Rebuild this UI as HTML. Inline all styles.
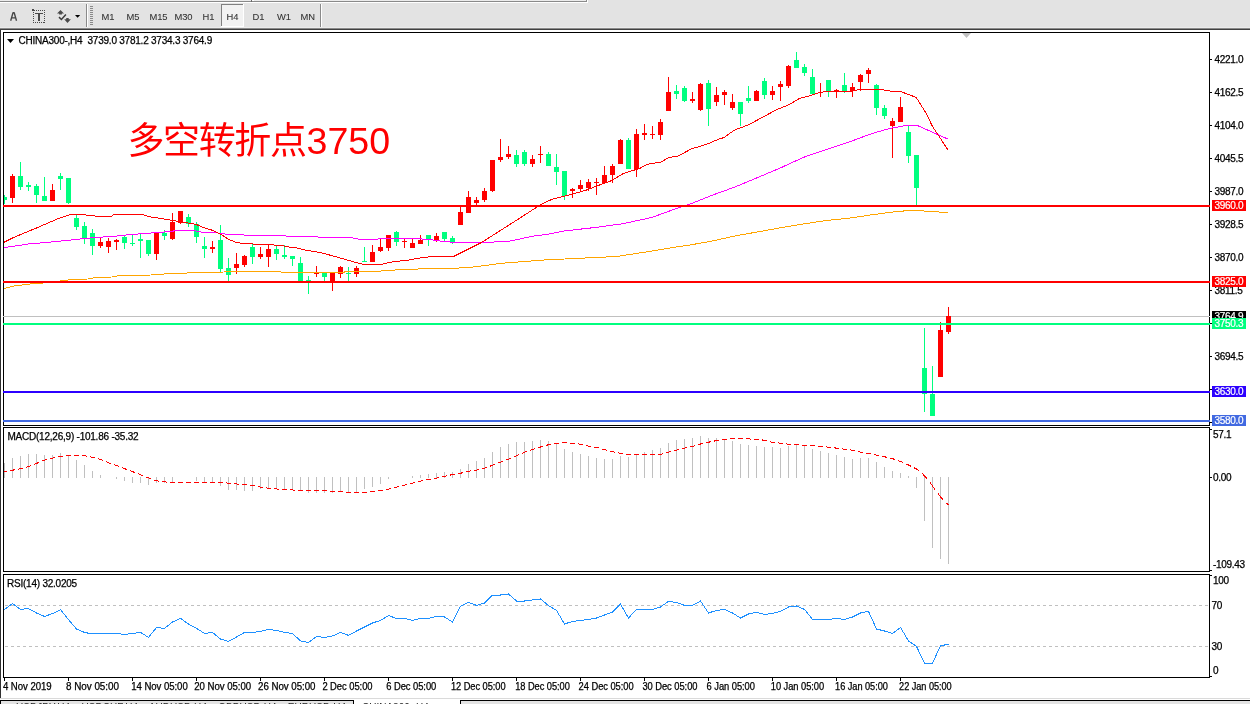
<!DOCTYPE html><html><head><meta charset="utf-8"><title>CHINA300-,H4</title><style>
html,body{margin:0;padding:0;background:#fff;width:1250px;height:704px;overflow:hidden}
svg{display:block;will-change:transform}
text{font-family:"Liberation Sans","Noto Sans CJK SC",sans-serif}
.ax{font-size:10px;letter-spacing:-0.32px;fill:#000;stroke:#000;stroke-width:0.25px}
.hd{font-size:10px;letter-spacing:-0.23px;fill:#000;stroke:#000;stroke-width:0.25px}
.tm{font-size:10px;letter-spacing:-0.05px;fill:#000;stroke:#000;stroke-width:0.25px}
.tb{font-size:9.4px;letter-spacing:-0.1px;fill:#333;stroke:#333;stroke-width:0.08px}
.lb{font-size:10px;letter-spacing:-0.32px;fill:#fff;stroke:#fff;stroke-width:0.2px}
</style></head><body>
<svg width="1250" height="704" viewBox="0 0 1250 704">
<g shape-rendering="crispEdges">
<rect x="0" y="0" width="1250" height="28" fill="#e3e3e3"/>
<rect x="0" y="0" width="587" height="1" fill="#ececec"/>
<rect x="0" y="1" width="587" height="1" fill="#8a8a8a"/>
<rect x="586" y="0" width="1" height="2" fill="#8a8a8a"/>
<rect x="0" y="2" width="588" height="1" fill="#ffffff"/>
<rect x="587" y="0" width="1" height="3" fill="#ffffff"/>
<rect x="251" y="0" width="1" height="2" fill="#6a6a6a"/>
<rect x="252" y="0" width="2" height="1" fill="#ffffff"/>
<rect x="0" y="27" width="1250" height="1" fill="#ebebeb"/>
<rect x="0" y="28" width="1250" height="1" fill="#8a8a8a"/>
<rect x="0" y="29" width="1250" height="1" fill="#404040"/>
<rect x="86" y="4" width="1" height="23" fill="#8a8a8a"/><rect x="87" y="4" width="1" height="23" fill="#ffffff"/>
<rect x="320" y="4" width="1" height="23" fill="#8a8a8a"/><rect x="321" y="4" width="1" height="23" fill="#ffffff"/>
<rect x="90" y="6" width="3" height="1" fill="#8a8a8a"/>
<rect x="90" y="8" width="3" height="1" fill="#8a8a8a"/>
<rect x="90" y="10" width="3" height="1" fill="#8a8a8a"/>
<rect x="90" y="12" width="3" height="1" fill="#8a8a8a"/>
<rect x="90" y="14" width="3" height="1" fill="#8a8a8a"/>
<rect x="90" y="16" width="3" height="1" fill="#8a8a8a"/>
<rect x="90" y="18" width="3" height="1" fill="#8a8a8a"/>
<rect x="90" y="20" width="3" height="1" fill="#8a8a8a"/>
<rect x="90" y="22" width="3" height="1" fill="#8a8a8a"/>
<rect x="90" y="24" width="3" height="1" fill="#8a8a8a"/>
<rect x="221" y="4" width="22" height="22" fill="#f2f2f2"/>
<rect x="221" y="4" width="22" height="1" fill="#808080"/><rect x="221" y="4" width="1" height="22" fill="#808080"/>
<rect x="243" y="4" width="1" height="23" fill="#ffffff"/><rect x="221" y="26" width="23" height="1" fill="#ffffff"/>
</g>
<path d="M10.7,20.8 L13,12.7 L14.2,12.7 L16.5,20.8 M11.8,17.9 L15.4,17.9" fill="none" stroke="#454545" stroke-width="1.35" stroke-linejoin="bevel"/>
<g shape-rendering="crispEdges" fill="#4a4a4a">
<rect x="33" y="12" width="1" height="1"/>
<rect x="33" y="14" width="1" height="1"/>
<rect x="33" y="16" width="1" height="1"/>
<rect x="33" y="18" width="1" height="1"/>
<rect x="33" y="20" width="1" height="1"/>
<rect x="44" y="10" width="1" height="1"/>
<rect x="44" y="12" width="1" height="1"/>
<rect x="44" y="14" width="1" height="1"/>
<rect x="44" y="16" width="1" height="1"/>
<rect x="44" y="18" width="1" height="1"/>
<rect x="44" y="20" width="1" height="1"/>
<rect x="44" y="22" width="1" height="1"/>
<rect x="36" y="10" width="1" height="1"/>
<rect x="38" y="10" width="1" height="1"/>
<rect x="40" y="10" width="1" height="1"/>
<rect x="42" y="10" width="1" height="1"/>
<rect x="33" y="22" width="1" height="1"/>
<rect x="35" y="22" width="1" height="1"/>
<rect x="37" y="22" width="1" height="1"/>
<rect x="39" y="22" width="1" height="1"/>
<rect x="41" y="22" width="1" height="1"/>
<rect x="43" y="22" width="1" height="1"/>
<rect x="32" y="9" width="2" height="2"/><rect x="34" y="10" width="1" height="1"/>
<rect x="35" y="13" width="8" height="1"/><rect x="38" y="13" width="2" height="8"/>
</g>
<path d="M57,13.6 L60.5,10 L64,13.6 Z M59.1,13.4 h2.8 v1.2 h-2.8 Z" fill="#4a4a4a"/>
<path d="M59,17.1 L61.4,19.5 L65.9,14.4" stroke="#3c3c3c" stroke-width="1.5" fill="none"/>
<path d="M64.2,19.3 L70.9,19.3 L67.5,22.9 Z M66.2,18.1 h2.5 v1.4 h-2.5 Z" fill="#4a4a4a"/>
<path d="M75,15 L80.2,15 L77.6,17.8 Z" fill="#000"/>
<text class="tb" x="101.5" y="19.7">M1</text>
<text class="tb" x="126.5" y="19.7">M5</text>
<text class="tb" x="149.5" y="19.7">M15</text>
<text class="tb" x="174.5" y="19.7">M30</text>
<text class="tb" x="202.5" y="19.7">H1</text>
<text class="tb" x="226.5" y="19.7">H4</text>
<text class="tb" x="252.5" y="19.7">D1</text>
<text class="tb" x="277" y="19.7">W1</text>
<text class="tb" x="300.5" y="19.7">MN</text>
<g shape-rendering="crispEdges">
<rect x="0" y="30" width="1250" height="668" fill="#ffffff"/>
<rect x="0" y="30" width="1" height="668" fill="#303030"/>
<rect x="0" y="698" width="1250" height="1" fill="#dadada"/>
<rect x="0" y="699" width="1250" height="5" fill="#ffffff"/>
<rect x="0" y="700" width="354" height="4" fill="#e3e3e3"/><rect x="0" y="700" width="354" height="1" fill="#000"/>
<rect x="460" y="700" width="790" height="4" fill="#e3e3e3"/><rect x="460" y="700" width="790" height="1" fill="#000"/>
<rect x="0" y="700" width="1" height="4" fill="#000"/><rect x="353" y="700" width="1" height="4" fill="#000"/><rect x="460" y="700" width="1" height="4" fill="#000"/>
</g>
<text x="16" y="711" style="font-size:10px;fill:#222" textLength="330" lengthAdjust="spacing">USDJPY,H4 &#160;&#160; USDCHF,H4 &#160;&#160; AUDUSD,H4 &#160;&#160; GBPUSD,H4 &#160;&#160; EURUSD,H4</text>
<text x="362" y="711" style="font-size:10px;fill:#222">CHINA300-,H4</text>
<g shape-rendering="crispEdges" fill="none" stroke="#000" stroke-width="1">
<rect x="3.5" y="32.5" width="1206" height="393"/>
<rect x="3.5" y="427.5" width="1206" height="144"/>
<rect x="3.5" y="574.5" width="1206" height="103"/>
</g>
<defs><clipPath id="cm"><rect x="4" y="33" width="1205" height="392"/></clipPath>
<clipPath id="cd"><rect x="4" y="428" width="1205" height="143"/></clipPath>
<clipPath id="cr"><rect x="4" y="575" width="1205" height="102"/></clipPath></defs>
<g shape-rendering="crispEdges"><rect x="3" y="316" width="1206" height="1" fill="#c0c0c0"/><rect x="1209" y="316" width="1" height="1" fill="#f4f4f4"/></g>
<g clip-path="url(#cm)">
<g shape-rendering="crispEdges">
<rect x="4" y="195" width="1" height="9" fill="#00ff7f"/><rect x="2" y="197" width="5" height="3" fill="#00ff7f"/>
<rect x="12" y="174" width="1" height="29" fill="#ff0000"/><rect x="10" y="176" width="5" height="22" fill="#ff0000"/>
<rect x="20" y="162" width="1" height="28" fill="#00ff7f"/><rect x="18" y="176" width="5" height="11" fill="#00ff7f"/>
<rect x="28" y="182" width="1" height="9" fill="#00ff7f"/><rect x="26" y="185" width="5" height="2" fill="#00ff7f"/>
<rect x="36" y="184" width="1" height="19" fill="#00ff7f"/><rect x="34" y="186" width="5" height="9" fill="#00ff7f"/>
<rect x="44" y="177" width="1" height="24" fill="#00ff7f"/><rect x="42" y="196" width="5" height="5" fill="#00ff7f"/>
<rect x="52" y="184" width="1" height="17" fill="#ff0000"/><rect x="50" y="190" width="5" height="11" fill="#ff0000"/>
<rect x="60" y="173" width="1" height="17" fill="#00ff7f"/><rect x="58" y="176" width="5" height="3" fill="#00ff7f"/>
<rect x="68" y="178" width="1" height="26" fill="#00ff7f"/><rect x="66" y="178" width="5" height="25" fill="#00ff7f"/>
<rect x="76" y="215" width="1" height="15" fill="#00ff7f"/><rect x="74" y="218" width="5" height="9" fill="#00ff7f"/>
<rect x="84" y="222" width="1" height="22" fill="#00ff7f"/><rect x="82" y="226" width="5" height="12" fill="#00ff7f"/>
<rect x="92" y="229" width="1" height="26" fill="#00ff7f"/><rect x="90" y="233" width="5" height="13" fill="#00ff7f"/>
<rect x="100" y="238" width="1" height="10" fill="#ff0000"/><rect x="98" y="242" width="5" height="4" fill="#ff0000"/>
<rect x="108" y="238" width="1" height="15" fill="#ff0000"/><rect x="106" y="241" width="5" height="6" fill="#ff0000"/>
<rect x="116" y="239" width="1" height="11" fill="#ff0000"/><rect x="114" y="240" width="5" height="2" fill="#ff0000"/>
<rect x="124" y="236" width="1" height="13" fill="#00ff7f"/><rect x="122" y="237" width="5" height="6" fill="#00ff7f"/>
<rect x="132" y="234" width="1" height="12" fill="#00ff7f"/><rect x="130" y="243" width="5" height="1" fill="#00ff7f"/>
<rect x="140" y="233" width="1" height="25" fill="#00ff7f"/><rect x="138" y="239" width="5" height="2" fill="#00ff7f"/>
<rect x="148" y="240" width="1" height="16" fill="#00ff7f"/><rect x="146" y="240" width="5" height="14" fill="#00ff7f"/>
<rect x="156" y="232" width="1" height="28" fill="#ff0000"/><rect x="154" y="232" width="5" height="22" fill="#ff0000"/>
<rect x="164" y="230" width="1" height="10" fill="#00ff7f"/><rect x="162" y="233" width="5" height="3" fill="#00ff7f"/>
<rect x="172" y="213" width="1" height="27" fill="#ff0000"/><rect x="170" y="222" width="5" height="17" fill="#ff0000"/>
<rect x="180" y="211" width="1" height="13" fill="#ff0000"/><rect x="178" y="211" width="5" height="12" fill="#ff0000"/>
<rect x="188" y="214" width="1" height="13" fill="#00ff7f"/><rect x="186" y="217" width="5" height="7" fill="#00ff7f"/>
<rect x="196" y="222" width="1" height="21" fill="#00ff7f"/><rect x="194" y="224" width="5" height="13" fill="#00ff7f"/>
<rect x="204" y="237" width="1" height="21" fill="#00ff7f"/><rect x="202" y="246" width="5" height="3" fill="#00ff7f"/>
<rect x="212" y="241" width="1" height="12" fill="#ff0000"/><rect x="210" y="247" width="5" height="2" fill="#ff0000"/>
<rect x="220" y="225" width="1" height="47" fill="#00ff7f"/><rect x="218" y="240" width="5" height="29" fill="#00ff7f"/>
<rect x="228" y="258" width="1" height="23" fill="#00ff7f"/><rect x="226" y="268" width="5" height="7" fill="#00ff7f"/>
<rect x="236" y="253" width="1" height="21" fill="#ff0000"/><rect x="234" y="264" width="5" height="4" fill="#ff0000"/>
<rect x="244" y="255" width="1" height="12" fill="#ff0000"/><rect x="242" y="256" width="5" height="9" fill="#ff0000"/>
<rect x="252" y="243" width="1" height="21" fill="#00ff7f"/><rect x="250" y="247" width="5" height="10" fill="#00ff7f"/>
<rect x="260" y="247" width="1" height="12" fill="#ff0000"/><rect x="258" y="254" width="5" height="3" fill="#ff0000"/>
<rect x="268" y="244" width="1" height="23" fill="#ff0000"/><rect x="266" y="249" width="5" height="8" fill="#ff0000"/>
<rect x="276" y="246" width="1" height="14" fill="#00ff7f"/><rect x="274" y="249" width="5" height="5" fill="#00ff7f"/>
<rect x="284" y="245" width="1" height="14" fill="#00ff7f"/><rect x="282" y="255" width="5" height="2" fill="#00ff7f"/>
<rect x="292" y="256" width="1" height="10" fill="#00ff7f"/><rect x="290" y="256" width="5" height="3" fill="#00ff7f"/>
<rect x="300" y="257" width="1" height="24" fill="#00ff7f"/><rect x="298" y="263" width="5" height="18" fill="#00ff7f"/>
<rect x="308" y="276" width="1" height="18" fill="#00ff7f"/><rect x="306" y="280" width="5" height="1" fill="#00ff7f"/>
<rect x="316" y="266" width="1" height="11" fill="#ff0000"/><rect x="314" y="273" width="5" height="1" fill="#ff0000"/>
<rect x="324" y="273" width="1" height="8" fill="#00ff7f"/><rect x="322" y="273" width="5" height="4" fill="#00ff7f"/>
<rect x="332" y="273" width="1" height="18" fill="#ff0000"/><rect x="330" y="273" width="5" height="9" fill="#ff0000"/>
<rect x="340" y="266" width="1" height="12" fill="#ff0000"/><rect x="338" y="267" width="5" height="7" fill="#ff0000"/>
<rect x="348" y="267" width="1" height="14" fill="#00ff7f"/><rect x="346" y="273" width="5" height="1" fill="#00ff7f"/>
<rect x="356" y="266" width="1" height="11" fill="#ff0000"/><rect x="354" y="268" width="5" height="6" fill="#ff0000"/>
<rect x="364" y="247" width="1" height="15" fill="#00ff7f"/><rect x="362" y="261" width="5" height="1" fill="#00ff7f"/>
<rect x="372" y="245" width="1" height="17" fill="#ff0000"/><rect x="370" y="252" width="5" height="10" fill="#ff0000"/>
<rect x="380" y="239" width="1" height="13" fill="#ff0000"/><rect x="378" y="247" width="5" height="4" fill="#ff0000"/>
<rect x="388" y="235" width="1" height="16" fill="#ff0000"/><rect x="386" y="235" width="5" height="13" fill="#ff0000"/>
<rect x="396" y="231" width="1" height="15" fill="#00ff7f"/><rect x="394" y="232" width="5" height="10" fill="#00ff7f"/>
<rect x="404" y="238" width="1" height="10" fill="#ff0000"/><rect x="402" y="241" width="5" height="1" fill="#ff0000"/>
<rect x="412" y="239" width="1" height="9" fill="#ff0000"/><rect x="410" y="243" width="5" height="5" fill="#ff0000"/>
<rect x="420" y="235" width="1" height="9" fill="#ff0000"/><rect x="418" y="240" width="5" height="4" fill="#ff0000"/>
<rect x="428" y="235" width="1" height="11" fill="#00ff7f"/><rect x="426" y="235" width="5" height="4" fill="#00ff7f"/>
<rect x="436" y="233" width="1" height="9" fill="#ff0000"/><rect x="434" y="236" width="5" height="5" fill="#ff0000"/>
<rect x="444" y="232" width="1" height="9" fill="#00ff7f"/><rect x="442" y="232" width="5" height="7" fill="#00ff7f"/>
<rect x="452" y="236" width="1" height="8" fill="#00ff7f"/><rect x="450" y="238" width="5" height="5" fill="#00ff7f"/>
<rect x="460" y="207" width="1" height="18" fill="#ff0000"/><rect x="458" y="212" width="5" height="13" fill="#ff0000"/>
<rect x="468" y="191" width="1" height="22" fill="#ff0000"/><rect x="466" y="197" width="5" height="16" fill="#ff0000"/>
<rect x="476" y="197" width="1" height="8" fill="#ff0000"/><rect x="474" y="200" width="5" height="3" fill="#ff0000"/>
<rect x="484" y="188" width="1" height="14" fill="#ff0000"/><rect x="482" y="191" width="5" height="9" fill="#ff0000"/>
<rect x="492" y="160" width="1" height="32" fill="#ff0000"/><rect x="490" y="160" width="5" height="31" fill="#ff0000"/>
<rect x="500" y="139" width="1" height="23" fill="#ff0000"/><rect x="498" y="157" width="5" height="3" fill="#ff0000"/>
<rect x="508" y="146" width="1" height="13" fill="#ff0000"/><rect x="506" y="154" width="5" height="3" fill="#ff0000"/>
<rect x="516" y="150" width="1" height="17" fill="#00ff7f"/><rect x="514" y="155" width="5" height="9" fill="#00ff7f"/>
<rect x="524" y="150" width="1" height="16" fill="#00ff7f"/><rect x="522" y="152" width="5" height="12" fill="#00ff7f"/>
<rect x="532" y="155" width="1" height="12" fill="#ff0000"/><rect x="530" y="159" width="5" height="5" fill="#ff0000"/>
<rect x="540" y="146" width="1" height="17" fill="#ff0000"/><rect x="538" y="154" width="5" height="1" fill="#ff0000"/>
<rect x="548" y="152" width="1" height="14" fill="#00ff7f"/><rect x="546" y="154" width="5" height="12" fill="#00ff7f"/>
<rect x="556" y="154" width="1" height="31" fill="#00ff7f"/><rect x="554" y="167" width="5" height="5" fill="#00ff7f"/>
<rect x="564" y="171" width="1" height="29" fill="#00ff7f"/><rect x="562" y="171" width="5" height="25" fill="#00ff7f"/>
<rect x="572" y="188" width="1" height="10" fill="#ff0000"/><rect x="570" y="189" width="5" height="2" fill="#ff0000"/>
<rect x="580" y="180" width="1" height="12" fill="#ff0000"/><rect x="578" y="185" width="5" height="4" fill="#ff0000"/>
<rect x="588" y="179" width="1" height="12" fill="#ff0000"/><rect x="586" y="182" width="5" height="6" fill="#ff0000"/>
<rect x="596" y="178" width="1" height="17" fill="#ff0000"/><rect x="594" y="182" width="5" height="1" fill="#ff0000"/>
<rect x="604" y="166" width="1" height="17" fill="#ff0000"/><rect x="602" y="175" width="5" height="8" fill="#ff0000"/>
<rect x="612" y="164" width="1" height="19" fill="#ff0000"/><rect x="610" y="166" width="5" height="9" fill="#ff0000"/>
<rect x="620" y="139" width="1" height="25" fill="#ff0000"/><rect x="618" y="140" width="5" height="24" fill="#ff0000"/>
<rect x="628" y="138" width="1" height="31" fill="#00ff7f"/><rect x="626" y="140" width="5" height="29" fill="#00ff7f"/>
<rect x="636" y="129" width="1" height="48" fill="#ff0000"/><rect x="634" y="134" width="5" height="35" fill="#ff0000"/>
<rect x="644" y="124" width="1" height="16" fill="#ff0000"/><rect x="642" y="133" width="5" height="2" fill="#ff0000"/>
<rect x="652" y="126" width="1" height="13" fill="#ff0000"/><rect x="650" y="134" width="5" height="1" fill="#ff0000"/>
<rect x="660" y="119" width="1" height="21" fill="#ff0000"/><rect x="658" y="122" width="5" height="13" fill="#ff0000"/>
<rect x="668" y="77" width="1" height="34" fill="#ff0000"/><rect x="666" y="92" width="5" height="19" fill="#ff0000"/>
<rect x="676" y="85" width="1" height="14" fill="#00ff7f"/><rect x="674" y="91" width="5" height="3" fill="#00ff7f"/>
<rect x="684" y="86" width="1" height="16" fill="#00ff7f"/><rect x="682" y="88" width="5" height="13" fill="#00ff7f"/>
<rect x="692" y="92" width="1" height="11" fill="#ff0000"/><rect x="690" y="99" width="5" height="2" fill="#ff0000"/>
<rect x="700" y="83" width="1" height="28" fill="#ff0000"/><rect x="698" y="84" width="5" height="26" fill="#ff0000"/>
<rect x="708" y="80" width="1" height="46" fill="#00ff7f"/><rect x="706" y="83" width="5" height="26" fill="#00ff7f"/>
<rect x="716" y="87" width="1" height="19" fill="#ff0000"/><rect x="714" y="95" width="5" height="7" fill="#ff0000"/>
<rect x="724" y="90" width="1" height="15" fill="#ff0000"/><rect x="722" y="92" width="5" height="3" fill="#ff0000"/>
<rect x="732" y="94" width="1" height="16" fill="#ff0000"/><rect x="730" y="102" width="5" height="6" fill="#ff0000"/>
<rect x="740" y="102" width="1" height="24" fill="#00ff7f"/><rect x="738" y="102" width="5" height="12" fill="#00ff7f"/>
<rect x="748" y="86" width="1" height="17" fill="#00ff7f"/><rect x="746" y="98" width="5" height="3" fill="#00ff7f"/>
<rect x="756" y="90" width="1" height="11" fill="#ff0000"/><rect x="754" y="91" width="5" height="10" fill="#ff0000"/>
<rect x="764" y="78" width="1" height="21" fill="#00ff7f"/><rect x="762" y="81" width="5" height="14" fill="#00ff7f"/>
<rect x="772" y="86" width="1" height="14" fill="#ff0000"/><rect x="770" y="91" width="5" height="4" fill="#ff0000"/>
<rect x="780" y="81" width="1" height="20" fill="#ff0000"/><rect x="778" y="84" width="5" height="3" fill="#ff0000"/>
<rect x="788" y="65" width="1" height="23" fill="#ff0000"/><rect x="786" y="66" width="5" height="20" fill="#ff0000"/>
<rect x="796" y="52" width="1" height="16" fill="#00ff7f"/><rect x="794" y="60" width="5" height="8" fill="#00ff7f"/>
<rect x="804" y="64" width="1" height="12" fill="#00ff7f"/><rect x="802" y="67" width="5" height="6" fill="#00ff7f"/>
<rect x="812" y="69" width="1" height="26" fill="#00ff7f"/><rect x="810" y="77" width="5" height="17" fill="#00ff7f"/>
<rect x="820" y="83" width="1" height="14" fill="#ff0000"/><rect x="818" y="92" width="5" height="1" fill="#ff0000"/>
<rect x="828" y="80" width="1" height="17" fill="#00ff7f"/><rect x="826" y="80" width="5" height="11" fill="#00ff7f"/>
<rect x="836" y="89" width="1" height="9" fill="#ff0000"/><rect x="834" y="90" width="5" height="2" fill="#ff0000"/>
<rect x="844" y="73" width="1" height="20" fill="#00ff7f"/><rect x="842" y="85" width="5" height="6" fill="#00ff7f"/>
<rect x="852" y="83" width="1" height="14" fill="#ff0000"/><rect x="850" y="87" width="5" height="4" fill="#ff0000"/>
<rect x="860" y="74" width="1" height="17" fill="#ff0000"/><rect x="858" y="75" width="5" height="7" fill="#ff0000"/>
<rect x="868" y="68" width="1" height="15" fill="#ff0000"/><rect x="866" y="70" width="5" height="4" fill="#ff0000"/>
<rect x="876" y="84" width="1" height="31" fill="#00ff7f"/><rect x="874" y="85" width="5" height="23" fill="#00ff7f"/>
<rect x="884" y="105" width="1" height="14" fill="#00ff7f"/><rect x="882" y="108" width="5" height="8" fill="#00ff7f"/>
<rect x="892" y="118" width="1" height="40" fill="#ff0000"/><rect x="890" y="121" width="5" height="5" fill="#ff0000"/>
<rect x="900" y="97" width="1" height="25" fill="#ff0000"/><rect x="898" y="107" width="5" height="15" fill="#ff0000"/>
<rect x="908" y="126" width="1" height="37" fill="#00ff7f"/><rect x="906" y="132" width="5" height="24" fill="#00ff7f"/>
<rect x="916" y="155" width="1" height="51" fill="#00ff7f"/><rect x="914" y="155" width="5" height="33" fill="#00ff7f"/>
<rect x="924" y="328" width="1" height="84" fill="#00ff7f"/><rect x="922" y="368" width="5" height="26" fill="#00ff7f"/>
<rect x="932" y="366" width="1" height="50" fill="#00ff7f"/><rect x="930" y="394" width="5" height="22" fill="#00ff7f"/>
<rect x="940" y="322" width="1" height="55" fill="#ff0000"/><rect x="938" y="330" width="5" height="47" fill="#ff0000"/>
<rect x="948" y="307" width="1" height="27" fill="#ff0000"/><rect x="946" y="316" width="5" height="16" fill="#ff0000"/>
</g>
<polyline points="4.0,288.4 14.2,286.0 28.4,284.1 42.6,283.1 64.0,280.5 72.0,279.5 87.9,279.0 95.8,277.6 111.7,277.0 120.2,275.3 151.5,275.0 164.0,274.0 175.3,273.9 192.0,272.6 224.0,272.0 256.0,271.2 280.3,271.6 281.6,272.6 344.2,272.3 345.5,271.2 375.9,271.4 399.7,269.7 431.5,268.5 452.0,268.4 471.2,267.3 502.4,263.2 544.0,260.0 585.5,258.0 616.7,256.5 647.9,251.7 679.1,246.5 690.0,245.0 712.7,240.9 735.5,235.9 758.2,231.8 780.9,227.7 803.6,223.9 826.4,220.5 849.1,218.2 871.8,214.8 894.5,211.8 912.7,210.2 919.5,210.7 935.5,211.8 948.0,212.5" fill="none" stroke="#ffa500" stroke-width="1" shape-rendering="crispEdges"/>
<polyline points="4.0,247.6 28.4,244.0 56.8,241.5 80.0,239.0 97.0,237.3 111.7,236.6 120.8,235.5 136.7,234.1 144.7,233.3 160.0,232.6 169.0,231.3 184.3,230.3 192.0,230.3 200.9,232.0 215.0,232.6 225.2,234.1 240.6,234.8 256.0,235.8 263.7,235.2 296.9,236.4 328.9,237.3 353.2,238.0 361.0,239.5 399.7,238.4 416.8,238.6 431.5,239.8 441.8,241.2 452.5,242.3 473.3,243.0 508.6,241.3 533.6,236.1 548.0,234.2 564.7,230.9 595.9,227.4 623.0,223.7 652.0,217.4 679.1,207.5 690.0,204.1 712.7,195.0 735.5,186.8 758.2,177.3 780.9,167.7 803.6,157.3 826.4,149.5 849.1,142.0 871.8,133.6 890.0,128.4 905.9,125.5 917.3,125.5 935.5,133.6 948.0,139.1" fill="none" stroke="#ff00ff" stroke-width="1" shape-rendering="crispEdges"/>
<polyline points="4.0,242.3 14.2,237.2 35.5,228.4 56.8,219.2 66.8,215.6 72.4,214.2 81.0,214.5 97.0,216.2 111.7,216.2 113.0,215.0 136.0,214.4 142.4,214.4 147.5,216.2 152.6,217.4 160.0,218.3 172.8,220.5 181.7,222.0 195.8,224.3 202.2,227.1 213.7,230.7 221.4,234.5 229.0,239.6 236.7,242.5 244.4,243.7 256.0,244.1 265.0,244.5 280.3,245.4 289.2,247.0 296.9,248.0 307.2,250.5 320.0,252.4 330.2,255.2 345.5,259.5 352.0,261.4 363.4,264.3 381.5,264.3 391.8,262.0 408.8,260.0 424.7,257.2 440.6,256.3 453.5,256.5 481.6,242.4 512.8,222.6 539.8,205.2 552.3,199.1 564.7,196.2 585.5,190.4 596.8,186.0 611.0,180.8 623.8,173.3 640.0,168.3 647.0,164.3 660.7,162.2 669.2,157.4 677.7,156.3 691.3,148.9 706.7,144.3 718.6,139.2 724.1,137.5 734.2,130.2 748.4,124.9 758.4,119.5 776.8,109.6 788.2,105.1 799.5,98.5 810.9,95.4 818.5,92.9 827.0,91.2 852.6,91.2 861.1,89.1 879.6,89.1 889.5,91.0 901.4,91.8 916.2,97.4 925.5,112.2 932.8,127.0 940.2,138.1 947.6,149.5" fill="none" stroke="#ff0000" stroke-width="1" shape-rendering="crispEdges"/>
<path d="M962,33 L971,33 L966.5,38 Z" fill="#c0c0c0"/>
</g>
<g shape-rendering="crispEdges">
<rect x="3" y="205" width="1207" height="2" fill="#ff0000"/>
<rect x="3" y="281" width="1207" height="2" fill="#ff0000"/>
<rect x="3" y="323" width="1207" height="2" fill="#00ff7f"/>
<rect x="3" y="391" width="1207" height="2" fill="#2c00ff"/>
<rect x="3" y="420" width="1207" height="2" fill="#4169e1"/>
</g>
<path d="M7,39 L14,39 L10.5,43 Z" fill="#000"/>
<text class="hd" x="18.5" y="44.3">CHINA300-,H4 &#160;3739.0 3781.2 3734.3 3764.9</text>
<text x="127.5" y="154" style="fill:#ff0000"><tspan style="font-size:37px;letter-spacing:-1.4px;font-family:'Liberation Sans','Noto Sans CJK SC',sans-serif">多空转折点</tspan><tspan style="font-size:37.6px;font-family:'Liberation Sans',sans-serif" dx="1">3750</tspan></text>
<g shape-rendering="crispEdges">
<rect x="1210" y="59" width="2" height="1" fill="#000"/>
<rect x="1210" y="92" width="2" height="1" fill="#000"/>
<rect x="1210" y="125" width="2" height="1" fill="#000"/>
<rect x="1210" y="158" width="2" height="1" fill="#000"/>
<rect x="1210" y="191" width="2" height="1" fill="#000"/>
<rect x="1210" y="224" width="2" height="1" fill="#000"/>
<rect x="1210" y="257" width="2" height="1" fill="#000"/>
<rect x="1210" y="290" width="2" height="1" fill="#000"/>
<rect x="1210" y="323" width="2" height="1" fill="#000"/>
<rect x="1210" y="356" width="2" height="1" fill="#000"/>
<rect x="1210" y="389" width="2" height="1" fill="#000"/>
<rect x="1210" y="422" width="2" height="1" fill="#000"/>
</g>
<text class="ax" x="1214.6" y="63">4221.0</text>
<text class="ax" x="1214.6" y="96">4162.5</text>
<text class="ax" x="1214.6" y="129">4104.0</text>
<text class="ax" x="1214.6" y="162">4045.5</text>
<text class="ax" x="1214.6" y="195">3987.0</text>
<text class="ax" x="1214.6" y="228">3928.5</text>
<text class="ax" x="1214.6" y="261">3870.0</text>
<text class="ax" x="1214.6" y="294">3811.5</text>
<text class="ax" x="1214.6" y="360">3694.5</text>
<rect x="1212" y="200" width="34" height="11" fill="#ff0000" shape-rendering="crispEdges"/>
<text class="lb" x="1214.5" y="209">3960.0</text>
<rect x="1212" y="276" width="34" height="11" fill="#ff0000" shape-rendering="crispEdges"/>
<text class="lb" x="1214.5" y="285">3825.0</text>
<rect x="1212" y="311" width="34" height="11" fill="#000" shape-rendering="crispEdges"/>
<text class="lb" x="1214.5" y="320">3764.9</text>
<rect x="1212" y="318" width="34" height="11" fill="#00ff7f" shape-rendering="crispEdges"/>
<text class="lb" x="1214.5" y="327">3750.3</text>
<rect x="1212" y="386" width="34" height="11" fill="#2c00ff" shape-rendering="crispEdges"/>
<text class="lb" x="1214.5" y="395">3630.0</text>
<rect x="1212" y="415" width="34" height="11" fill="#4169e1" shape-rendering="crispEdges"/>
<text class="lb" x="1214.5" y="424">3580.0</text>
<g clip-path="url(#cd)">
<g shape-rendering="crispEdges">
<rect x="4" y="463" width="1" height="15" fill="#c0c0c0"/>
<rect x="12" y="458" width="1" height="20" fill="#c0c0c0"/>
<rect x="20" y="456" width="1" height="22" fill="#c0c0c0"/>
<rect x="28" y="454" width="1" height="24" fill="#c0c0c0"/>
<rect x="36" y="454" width="1" height="24" fill="#c0c0c0"/>
<rect x="44" y="455" width="1" height="23" fill="#c0c0c0"/>
<rect x="52" y="455" width="1" height="23" fill="#c0c0c0"/>
<rect x="60" y="453" width="1" height="25" fill="#c0c0c0"/>
<rect x="68" y="455" width="1" height="23" fill="#c0c0c0"/>
<rect x="76" y="460" width="1" height="18" fill="#c0c0c0"/>
<rect x="84" y="465" width="1" height="13" fill="#c0c0c0"/>
<rect x="92" y="471" width="1" height="7" fill="#c0c0c0"/>
<rect x="100" y="475" width="1" height="3" fill="#c0c0c0"/>
<rect x="116" y="477" width="1" height="2" fill="#c0c0c0"/>
<rect x="124" y="477" width="1" height="4" fill="#c0c0c0"/>
<rect x="132" y="477" width="1" height="6" fill="#c0c0c0"/>
<rect x="140" y="477" width="1" height="6" fill="#c0c0c0"/>
<rect x="148" y="477" width="1" height="8" fill="#c0c0c0"/>
<rect x="156" y="477" width="1" height="6" fill="#c0c0c0"/>
<rect x="164" y="477" width="1" height="6" fill="#c0c0c0"/>
<rect x="172" y="477" width="1" height="5" fill="#c0c0c0"/>
<rect x="196" y="477" width="1" height="4" fill="#c0c0c0"/>
<rect x="204" y="477" width="1" height="5" fill="#c0c0c0"/>
<rect x="212" y="477" width="1" height="6" fill="#c0c0c0"/>
<rect x="220" y="477" width="1" height="9" fill="#c0c0c0"/>
<rect x="228" y="477" width="1" height="13" fill="#c0c0c0"/>
<rect x="236" y="477" width="1" height="13" fill="#c0c0c0"/>
<rect x="244" y="477" width="1" height="14" fill="#c0c0c0"/>
<rect x="252" y="477" width="1" height="14" fill="#c0c0c0"/>
<rect x="260" y="477" width="1" height="12" fill="#c0c0c0"/>
<rect x="268" y="477" width="1" height="11" fill="#c0c0c0"/>
<rect x="276" y="477" width="1" height="11" fill="#c0c0c0"/>
<rect x="284" y="477" width="1" height="12" fill="#c0c0c0"/>
<rect x="292" y="477" width="1" height="13" fill="#c0c0c0"/>
<rect x="300" y="477" width="1" height="14" fill="#c0c0c0"/>
<rect x="308" y="477" width="1" height="16" fill="#c0c0c0"/>
<rect x="316" y="477" width="1" height="16" fill="#c0c0c0"/>
<rect x="324" y="477" width="1" height="16" fill="#c0c0c0"/>
<rect x="332" y="477" width="1" height="16" fill="#c0c0c0"/>
<rect x="340" y="477" width="1" height="15" fill="#c0c0c0"/>
<rect x="348" y="477" width="1" height="15" fill="#c0c0c0"/>
<rect x="356" y="477" width="1" height="15" fill="#c0c0c0"/>
<rect x="364" y="477" width="1" height="12" fill="#c0c0c0"/>
<rect x="372" y="477" width="1" height="10" fill="#c0c0c0"/>
<rect x="380" y="477" width="1" height="7" fill="#c0c0c0"/>
<rect x="388" y="477" width="1" height="2" fill="#c0c0c0"/>
<rect x="412" y="476" width="1" height="2" fill="#c0c0c0"/>
<rect x="420" y="475" width="1" height="3" fill="#c0c0c0"/>
<rect x="428" y="474" width="1" height="4" fill="#c0c0c0"/>
<rect x="436" y="473" width="1" height="5" fill="#c0c0c0"/>
<rect x="444" y="472" width="1" height="6" fill="#c0c0c0"/>
<rect x="452" y="472" width="1" height="6" fill="#c0c0c0"/>
<rect x="460" y="469" width="1" height="9" fill="#c0c0c0"/>
<rect x="468" y="464" width="1" height="14" fill="#c0c0c0"/>
<rect x="476" y="461" width="1" height="17" fill="#c0c0c0"/>
<rect x="484" y="458" width="1" height="20" fill="#c0c0c0"/>
<rect x="492" y="452" width="1" height="26" fill="#c0c0c0"/>
<rect x="500" y="447" width="1" height="31" fill="#c0c0c0"/>
<rect x="508" y="444" width="1" height="34" fill="#c0c0c0"/>
<rect x="516" y="442" width="1" height="36" fill="#c0c0c0"/>
<rect x="524" y="442" width="1" height="36" fill="#c0c0c0"/>
<rect x="532" y="441" width="1" height="37" fill="#c0c0c0"/>
<rect x="540" y="440" width="1" height="38" fill="#c0c0c0"/>
<rect x="548" y="441" width="1" height="37" fill="#c0c0c0"/>
<rect x="556" y="444" width="1" height="34" fill="#c0c0c0"/>
<rect x="564" y="449" width="1" height="29" fill="#c0c0c0"/>
<rect x="572" y="452" width="1" height="26" fill="#c0c0c0"/>
<rect x="580" y="454" width="1" height="24" fill="#c0c0c0"/>
<rect x="588" y="456" width="1" height="22" fill="#c0c0c0"/>
<rect x="596" y="458" width="1" height="20" fill="#c0c0c0"/>
<rect x="604" y="459" width="1" height="19" fill="#c0c0c0"/>
<rect x="612" y="459" width="1" height="19" fill="#c0c0c0"/>
<rect x="620" y="456" width="1" height="22" fill="#c0c0c0"/>
<rect x="628" y="457" width="1" height="21" fill="#c0c0c0"/>
<rect x="636" y="454" width="1" height="24" fill="#c0c0c0"/>
<rect x="644" y="452" width="1" height="26" fill="#c0c0c0"/>
<rect x="652" y="450" width="1" height="28" fill="#c0c0c0"/>
<rect x="660" y="448" width="1" height="30" fill="#c0c0c0"/>
<rect x="668" y="443" width="1" height="35" fill="#c0c0c0"/>
<rect x="676" y="440" width="1" height="38" fill="#c0c0c0"/>
<rect x="684" y="439" width="1" height="39" fill="#c0c0c0"/>
<rect x="692" y="438" width="1" height="40" fill="#c0c0c0"/>
<rect x="700" y="436" width="1" height="42" fill="#c0c0c0"/>
<rect x="708" y="438" width="1" height="40" fill="#c0c0c0"/>
<rect x="716" y="438" width="1" height="40" fill="#c0c0c0"/>
<rect x="724" y="439" width="1" height="39" fill="#c0c0c0"/>
<rect x="732" y="441" width="1" height="37" fill="#c0c0c0"/>
<rect x="740" y="444" width="1" height="34" fill="#c0c0c0"/>
<rect x="748" y="445" width="1" height="33" fill="#c0c0c0"/>
<rect x="756" y="446" width="1" height="32" fill="#c0c0c0"/>
<rect x="764" y="447" width="1" height="31" fill="#c0c0c0"/>
<rect x="772" y="447" width="1" height="31" fill="#c0c0c0"/>
<rect x="780" y="448" width="1" height="30" fill="#c0c0c0"/>
<rect x="788" y="446" width="1" height="32" fill="#c0c0c0"/>
<rect x="796" y="445" width="1" height="33" fill="#c0c0c0"/>
<rect x="804" y="446" width="1" height="32" fill="#c0c0c0"/>
<rect x="812" y="449" width="1" height="29" fill="#c0c0c0"/>
<rect x="820" y="451" width="1" height="27" fill="#c0c0c0"/>
<rect x="828" y="453" width="1" height="25" fill="#c0c0c0"/>
<rect x="836" y="455" width="1" height="23" fill="#c0c0c0"/>
<rect x="844" y="457" width="1" height="21" fill="#c0c0c0"/>
<rect x="852" y="459" width="1" height="19" fill="#c0c0c0"/>
<rect x="860" y="458" width="1" height="20" fill="#c0c0c0"/>
<rect x="868" y="458" width="1" height="20" fill="#c0c0c0"/>
<rect x="876" y="462" width="1" height="16" fill="#c0c0c0"/>
<rect x="884" y="467" width="1" height="11" fill="#c0c0c0"/>
<rect x="892" y="471" width="1" height="7" fill="#c0c0c0"/>
<rect x="900" y="473" width="1" height="5" fill="#c0c0c0"/>
<rect x="908" y="476" width="1" height="2" fill="#c0c0c0"/>
<rect x="916" y="477" width="1" height="11" fill="#c0c0c0"/>
<rect x="924" y="477" width="1" height="44" fill="#c0c0c0"/>
<rect x="932" y="477" width="1" height="71" fill="#c0c0c0"/>
<rect x="940" y="477" width="1" height="82" fill="#c0c0c0"/>
<rect x="948" y="477" width="1" height="87" fill="#c0c0c0"/>
</g>
<path d="M4.0,471.9L7.0,471.3M10.0,470.7L15.0,469.7M18.0,469.2L23.0,468.1M26.0,467.3L31.0,465.6M34.0,464.4L39.0,462.4M42.0,461.1L47.0,459.5M50.0,458.7L55.0,457.5M58.0,456.8L63.0,456.0M66.0,455.7L71.0,455.5M74.0,455.5L79.0,455.5M82.0,455.5L87.0,456.1M90.0,456.8L95.0,457.9M98.0,458.5L103.0,460.3M106.0,461.7L111.0,463.7M114.0,464.7L119.0,466.5M122.0,467.7L127.0,469.6M130.0,470.7L135.0,472.6M138.0,473.7L143.0,475.7M146.0,476.9L151.0,478.9M154.0,480.0L159.0,481.2M162.0,481.6L167.0,482.1M170.0,482.4L175.0,482.6M178.0,482.6L183.0,482.6M186.0,482.6L191.0,482.6M194.0,482.6L199.0,482.6M202.0,482.6L207.0,482.6M210.0,482.6L215.0,482.6M218.0,482.7L223.0,482.9M226.0,482.9L231.0,483.3M234.0,483.6L239.0,484.2M242.0,484.5L247.0,484.9M250.0,485.1L255.0,485.9M258.0,486.7L263.0,487.6M266.0,487.9L271.0,488.4M274.0,488.7L279.0,489.2M282.0,489.3L287.0,489.7M290.0,489.8L295.0,490.1M298.0,490.1L303.0,490.2M306.0,490.3L311.0,490.4M314.0,490.5L319.0,490.6M322.0,490.6L327.0,490.8M330.0,491.0L335.0,491.2M338.0,491.4L343.0,491.8M346.0,492.1L351.0,492.4M354.0,492.4L359.0,492.4M362.0,492.4L367.0,492.2M370.0,491.9L375.0,491.2M378.0,490.8L383.0,490.1M386.0,489.6L391.0,488.6M394.0,487.8L399.0,486.5M402.0,485.8L407.0,484.5M410.0,483.8L415.0,482.5M418.0,481.7L423.0,480.5M426.0,479.8L431.0,479.0M434.0,478.6L439.0,477.6M442.0,476.9L447.0,475.7M450.0,475.1L455.0,474.2M458.0,473.7L463.0,472.7M466.0,471.9L471.0,470.7M474.0,470.5L479.0,469.7M482.0,469.0L487.0,467.5M490.0,466.2L495.0,464.1M498.0,463.0L503.0,461.2M506.0,460.1L511.0,458.1M514.0,456.8L519.0,454.6M522.0,453.3L527.0,451.4M530.0,450.4L535.0,448.8M538.0,447.8L543.0,446.2M546.0,445.3L551.0,444.3M554.0,443.9L559.0,443.3M562.0,442.9L567.0,442.7M570.0,443.0L575.0,443.6M578.0,443.9L583.0,444.9M586.0,445.6L591.0,446.6M594.0,447.1L599.0,448.1M602.0,448.9L607.0,450.2M610.0,451.0L615.0,452.2M618.0,452.9L623.0,453.8M626.0,454.3L631.0,454.9M634.0,454.9L639.0,454.9M642.0,454.9L647.0,454.9M650.0,454.9L655.0,454.9M658.0,454.9L663.0,453.7M666.0,452.8L671.0,451.4M674.0,450.7L679.0,449.4M682.0,448.7L687.0,447.5M690.0,446.9L695.0,445.7M698.0,444.7L703.0,443.3M706.0,442.7L711.0,441.7M714.0,441.1L719.0,440.3M722.0,439.9L727.0,439.1M730.0,438.4L735.0,438.3M738.0,438.3L743.0,438.5M746.0,438.7L751.0,439.1M754.0,439.3L759.0,439.6M762.0,439.9L767.0,441.0M770.0,441.8L775.0,442.6M778.0,442.9L783.0,443.6M786.0,443.9L791.0,444.4M794.0,444.6L799.0,444.9M802.0,445.1L807.0,445.4M810.0,445.5L815.0,445.8M818.0,446.1L823.0,446.6M826.0,446.9L831.0,447.4M834.0,447.8L839.0,448.5M842.0,448.9L847.0,449.5M850.0,449.9L855.0,450.9M858.0,451.6L863.0,452.6M866.0,453.0L871.0,453.8M874.0,454.6L879.0,455.7M882.0,456.3L887.0,457.3M890.0,457.9L895.0,459.5M898.0,460.6L903.0,462.5M906.0,463.9L911.0,466.2M914.0,467.7L919.0,470.4M922.0,473.2L927.0,478.7M930.0,482.6L935.0,489.4M938.0,493.6L943.0,499.9M946.0,502.9L949.0,505.0" fill="none" stroke="#ff0000" stroke-width="1" shape-rendering="crispEdges"/>
</g>
<text class="hd" x="7.5" y="440.3">MACD(12,26,9) -101.86 -35.32</text>
<g shape-rendering="crispEdges"><rect x="1210" y="429" width="2" height="1" fill="#000"/><rect x="1210" y="477" width="2" height="1" fill="#000"/><rect x="1210" y="570" width="2" height="1" fill="#000"/></g>
<text class="ax" x="1213" y="438">57.1</text>
<text class="ax" x="1213" y="481">0.00</text>
<text class="ax" x="1213" y="567.6">-109.43</text>
<g clip-path="url(#cr)">
<g shape-rendering="crispEdges">
<line x1="5" y1="605.5" x2="1209" y2="605.5" stroke="#c0c0c0" stroke-dasharray="3 3"/>
<line x1="5" y1="646.5" x2="1209" y2="646.5" stroke="#c0c0c0" stroke-dasharray="3 3"/>
</g>
<polyline points="4.5,609.6 12.5,603.6 20.5,609.4 28.5,608.6 36.5,613.0 44.5,616.4 52.5,613.6 60.5,609.6 68.5,619.6 76.5,629.0 84.5,632.4 92.5,634.0 100.5,633.4 108.5,633.4 116.5,633.4 124.5,634.4 132.5,633.4 140.5,632.4 148.5,637.4 156.5,627.6 164.5,628.4 172.5,622.0 180.5,618.4 188.5,624.0 196.5,628.4 204.5,633.4 212.5,632.4 220.5,639.0 228.5,641.4 236.5,637.0 244.5,632.4 252.5,632.4 260.5,631.4 268.5,629.4 276.5,630.4 284.5,632.4 292.5,633.4 300.5,641.0 308.5,642.4 316.5,636.4 324.5,637.6 332.5,636.0 340.5,632.4 348.5,635.4 356.5,631.0 364.5,627.0 372.5,623.0 380.5,620.4 388.5,615.6 396.5,618.4 404.5,618.4 412.5,620.4 420.5,618.4 428.5,618.4 436.5,616.4 444.5,617.0 452.5,622.0 460.5,606.4 468.5,602.4 476.5,605.4 484.5,603.0 492.5,595.0 500.5,595.0 508.5,594.0 516.5,601.0 524.5,601.0 532.5,600.0 540.5,599.0 548.5,605.6 556.5,610.4 564.5,624.0 572.5,621.4 580.5,620.4 588.5,619.4 596.5,618.0 604.5,615.0 612.5,612.0 620.5,604.0 628.5,618.0 636.5,609.4 644.5,609.4 652.5,609.4 660.5,607.0 668.5,601.4 676.5,602.4 684.5,605.4 692.5,605.4 700.5,601.0 708.5,613.0 716.5,610.4 724.5,609.4 732.5,613.0 740.5,618.0 748.5,614.0 756.5,612.4 764.5,614.4 772.5,613.4 780.5,611.4 788.5,607.0 796.5,606.0 804.5,609.4 812.5,619.4 820.5,619.4 828.5,619.4 836.5,618.4 844.5,619.4 852.5,617.0 860.5,613.0 868.5,611.4 876.5,629.0 884.5,631.0 892.5,633.4 900.5,627.4 908.5,641.0 916.5,646.4 924.5,663.4 932.5,663.4 940.5,645.6 948.5,644.4" fill="none" stroke="#1e90ff" stroke-width="1" shape-rendering="crispEdges"/>
</g>
<text class="hd" x="7" y="587">RSI(14) 32.0205</text>
<g shape-rendering="crispEdges"><rect x="1210" y="575" width="2" height="1" fill="#000"/><rect x="1210" y="676" width="2" height="1" fill="#000"/></g>
<text class="ax" x="1213" y="584">100</text>
<text class="ax" x="1211.5" y="608.8">70</text>
<text class="ax" x="1211.5" y="649.8">30</text>
<text class="ax" x="1213" y="674">0</text>
<g shape-rendering="crispEdges">
<rect x="4" y="677" width="1" height="4" fill="#000"/>
<rect x="68" y="677" width="1" height="4" fill="#000"/>
<rect x="132" y="677" width="1" height="4" fill="#000"/>
<rect x="196" y="677" width="1" height="4" fill="#000"/>
<rect x="260" y="677" width="1" height="4" fill="#000"/>
<rect x="324" y="677" width="1" height="4" fill="#000"/>
<rect x="388" y="677" width="1" height="4" fill="#000"/>
<rect x="452" y="677" width="1" height="4" fill="#000"/>
<rect x="516" y="677" width="1" height="4" fill="#000"/>
<rect x="580" y="677" width="1" height="4" fill="#000"/>
<rect x="644" y="677" width="1" height="4" fill="#000"/>
<rect x="708" y="677" width="1" height="4" fill="#000"/>
<rect x="772" y="677" width="1" height="4" fill="#000"/>
<rect x="836" y="677" width="1" height="4" fill="#000"/>
<rect x="900" y="677" width="1" height="4" fill="#000"/>
</g>
<text class="tm" x="2.9" y="690" textLength="48.8" lengthAdjust="spacingAndGlyphs">4 Nov 2019</text>
<text class="tm" x="66.1" y="690" textLength="52.8" lengthAdjust="spacingAndGlyphs">8 Nov 05:00</text>
<text class="tm" x="131.2" y="690" textLength="56.5" lengthAdjust="spacingAndGlyphs">14 Nov 05:00</text>
<text class="tm" x="194.3" y="690" textLength="56.8" lengthAdjust="spacingAndGlyphs">20 Nov 05:00</text>
<text class="tm" x="258.1" y="690" textLength="57.3" lengthAdjust="spacingAndGlyphs">26 Nov 05:00</text>
<text class="tm" x="322.4" y="690" textLength="50.1" lengthAdjust="spacingAndGlyphs">2 Dec 05:00</text>
<text class="tm" x="386.2" y="690" textLength="50.1" lengthAdjust="spacingAndGlyphs">6 Dec 05:00</text>
<text class="tm" x="450.9" y="690" textLength="54.6" lengthAdjust="spacingAndGlyphs">12 Dec 05:00</text>
<text class="tm" x="515.2" y="690" textLength="54.6" lengthAdjust="spacingAndGlyphs">18 Dec 05:00</text>
<text class="tm" x="578.6" y="690" textLength="55.0" lengthAdjust="spacingAndGlyphs">24 Dec 05:00</text>
<text class="tm" x="642.4" y="690" textLength="55.1" lengthAdjust="spacingAndGlyphs">30 Dec 05:00</text>
<text class="tm" x="706.6" y="690" textLength="48.3" lengthAdjust="spacingAndGlyphs">6 Jan 05:00</text>
<text class="tm" x="770.8" y="690" textLength="53.3" lengthAdjust="spacingAndGlyphs">10 Jan 05:00</text>
<text class="tm" x="835.1" y="690" textLength="52.7" lengthAdjust="spacingAndGlyphs">16 Jan 05:00</text>
<text class="tm" x="899.1" y="690" textLength="52.6" lengthAdjust="spacingAndGlyphs">22 Jan 05:00</text>
</svg></body></html>
